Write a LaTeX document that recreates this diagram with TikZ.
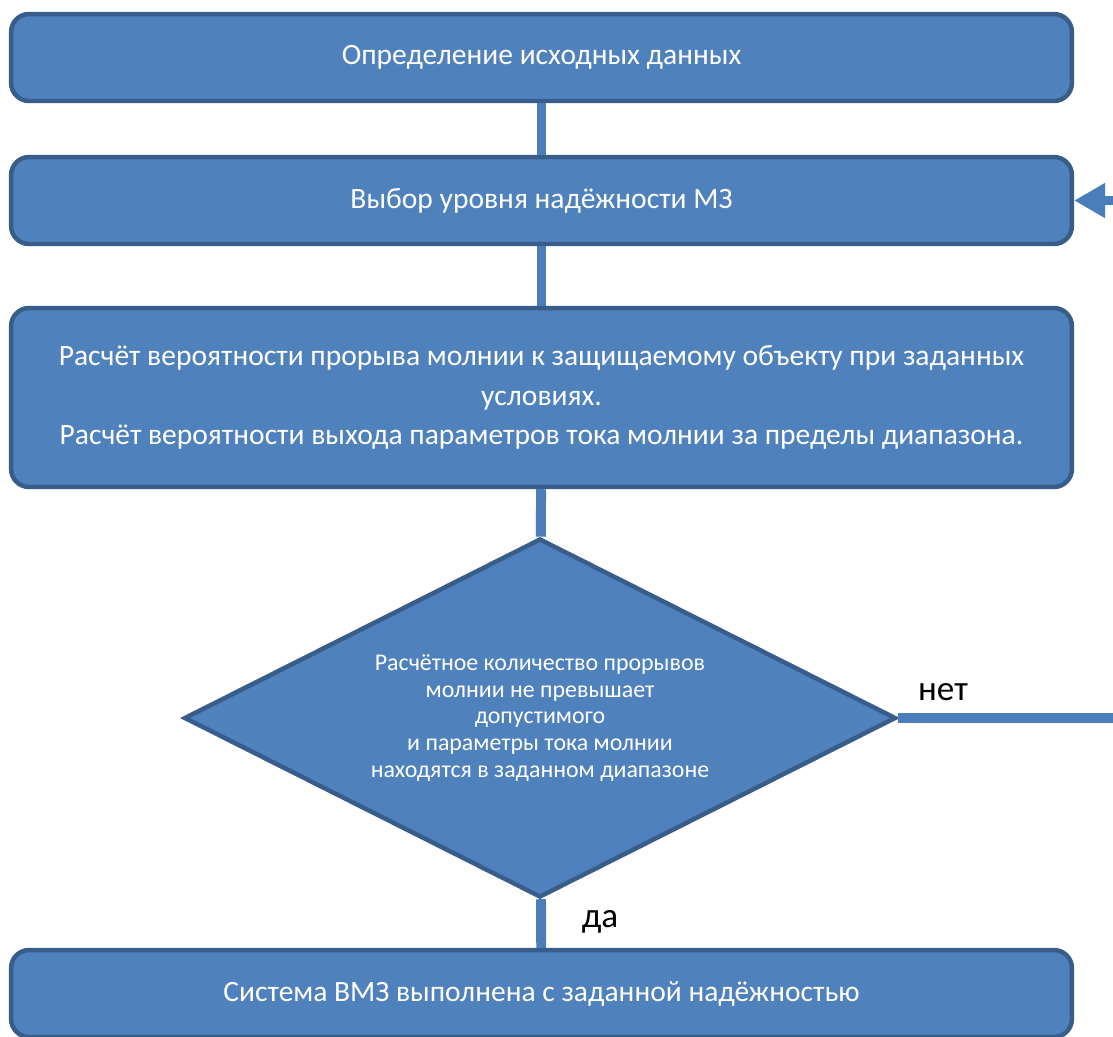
\documentclass[tikz,border=0pt]{standalone}
\usepackage{fontspec}
\setmainfont{Carlito}
\usetikzlibrary{shapes.geometric,arrows.meta}
\definecolor{boxfill}{HTML}{4F81BD}
\definecolor{boxline}{HTML}{385D8A}
\definecolor{linkcol}{HTML}{4A7EBB}
\begin{document}
\begin{tikzpicture}[x=0.02cm,y=-0.02cm,
  procbox/.style={draw=boxline, fill=boxfill, line width=2.55pt, rounded corners=0.36cm,
    minimum width=21.22cm, inner sep=0pt, text=white, align=center,
    font=\fontsize{16.8}{22.4}\selectfont},
  decbox/.style={diamond, aspect=2, draw=boxline, fill=boxfill, line width=2.55pt,
    minimum width=14.24cm, minimum height=7.18cm, inner sep=0pt, text=white, align=center,
    font=\fontsize{13.6}{15.3}\selectfont},
  link/.style={draw=linkcol, line width=5.67pt},
  lbl/.style={anchor=base, font=\fontsize{20}{24}\selectfont}]
\path[use as bounding box, fill=white] (0,0) rectangle (1113,1036);
\node[procbox, minimum height=1.74cm] (s0) at (541.5,57.5) {Определение исходных данных};
\node[procbox, minimum height=1.74cm] (s1) at (541.5,200.5) {Выбор уровня надёжности МЗ};
\node[procbox, minimum height=3.58cm] (s2) at (541.5,397.5) {Расчёт вероятности прорыва молнии к защищаемому объекту при заданных\\условиях.\\Расчёт вероятности выхода параметров тока молнии за пределы диапазона.};
\node[decbox] (d0) at (540,718) {Расчётное количество прорывов\\молнии не превышает\\допустимого\\и параметры тока молнии\\находятся в заданном диапазоне};
\node[procbox, minimum height=1.74cm] (s3) at (541.5,993.5) {Система ВМЗ выполнена с заданной надёжностью};
\node[lbl] (no) at (943,700) {нет};
\node[lbl] (yes) at (600,927) {да};
\coordinate (back) at (1140,718);
% connectors
\draw[link] (s0) -- (s1);
\draw[link] (s1) -- (s2);
\draw[link] (s2) -- (d0);
\draw[link] (d0) -- (s3);
\draw[link, -{Triangle[length=0.62cm, width=0.66cm]}] (d0.east) -- (back) |- (s1.east);
\end{tikzpicture}
\end{document}
